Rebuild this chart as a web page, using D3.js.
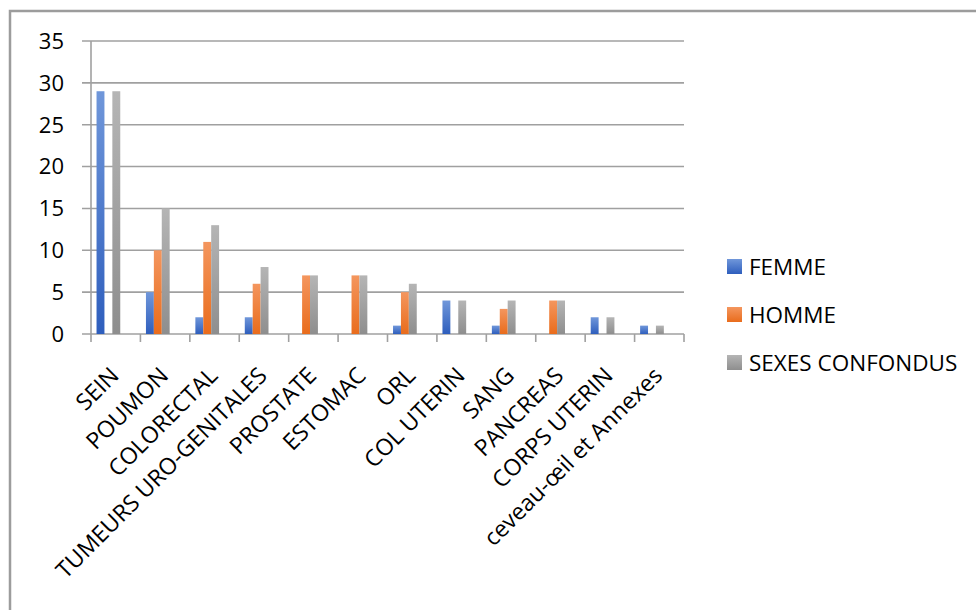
<!DOCTYPE html>
<html>
<head>
<meta charset="utf-8">
<script src="https://cdn.jsdelivr.net/npm/d3@7"></script>
<style>
  html, body { margin: 0; padding: 0; background: #fff; }
  svg { display: block; }
  text { font-family: "Open Sans", sans-serif; fill: #000; }
</style>
</head>
<body>
<div id="chart"></div>
<script>
// Cancer localisations by sex
const categories = ["SEIN", "POUMON", "COLORECTAL", "TUMEURS URO-GENITALES", "PROSTATE", "ESTOMAC",
  "ORL", "COL UTERIN", "SANG", "PANCREAS", "CORPS UTERIN", "ceveau-œil et Annexes"];
const seriesNames = ["FEMME", "HOMME", "SEXES CONFONDUS"];
const femme  = [29, 5, 2, 2, 0, 0, 1, 4, 1, 0, 2, 1];
const homme  = [0, 10, 11, 6, 7, 7, 5, 0, 3, 4, 0, 0];
const sexes  = [29, 15, 13, 8, 7, 7, 6, 4, 4, 4, 2, 1];
const yTicks = [0, 5, 10, 15, 20, 25, 30, 35];

const seriesValues = [femme, homme, sexes];
const colors = [
  { top: "#7097da", bottom: "#2e5ebd" },
  { top: "#f4965e", bottom: "#e96c1c" },
  { top: "#b5b5b5", bottom: "#8e8e8e" }
];

const W = 976, H = 610;
const plot = { left: 91, right: 684, top: 41, bottom: 334 };

const svg = d3.select("#chart").append("svg").attr("width", W).attr("height", H);

const defs = svg.append("defs");
colors.forEach((c, i) => {
  const g = defs.append("linearGradient").attr("id", "grad" + i)
    .attr("x1", 0).attr("y1", 0).attr("x2", 0).attr("y2", 1);
  g.append("stop").attr("offset", "0%").attr("stop-color", c.top);
  g.append("stop").attr("offset", "100%").attr("stop-color", c.bottom);
});

// chart frame
svg.append("rect").attr("x", 10).attr("y", 11).attr("width", 1000).attr("height", 700)
  .attr("fill", "none").attr("stroke", "#9c9c9c").attr("stroke-width", 2.5);

const y = d3.scaleLinear().domain([0, 35]).range([plot.bottom, plot.top]);
const x0 = d3.scaleBand().domain(categories).range([plot.left, plot.right]).padding(0);
const bw = x0.bandwidth();
const x1 = d3.scaleBand().domain(seriesNames).range([bw * 0.112, bw * 0.592]).padding(0);

// horizontal gridlines with left tick stubs
svg.append("g").selectAll("line").data(yTicks).join("line")
  .attr("x1", plot.left - 9).attr("x2", plot.right)
  .attr("y1", d => y(d)).attr("y2", d => y(d))
  .attr("stroke", "#a0a0a0").attr("stroke-width", 1.6);

// vertical axis line
svg.append("line").attr("x1", plot.left).attr("x2", plot.left)
  .attr("y1", plot.top).attr("y2", plot.bottom)
  .attr("stroke", "#a0a0a0").attr("stroke-width", 1.6);

// y tick labels
svg.append("g").selectAll("text").data(yTicks).join("text")
  .attr("x", 64).attr("y", d => y(d)).attr("dy", "0.36em")
  .attr("text-anchor", "end").style("font-size", "22px")
  .text(d => d);

// category tick marks
const tickXs = categories.map(c => x0(c)).concat([plot.right]);
svg.append("g").selectAll("line").data(tickXs).join("line")
  .attr("x1", d => d).attr("x2", d => d)
  .attr("y1", plot.bottom).attr("y2", plot.bottom + 8)
  .attr("stroke", "#a0a0a0").attr("stroke-width", 1.6);

// bars
const groups = svg.append("g").selectAll("g").data(categories).join("g")
  .attr("transform", c => `translate(${x0(c)},0)`);
groups.selectAll("rect")
  .data((c, ci) => seriesNames.map((s, si) => ({ s, si, v: seriesValues[si][ci] })))
  .join("rect")
  .attr("x", d => x1(d.s))
  .attr("width", x1.bandwidth())
  .attr("y", d => y(d.v))
  .attr("height", d => y(0) - y(d.v))
  .attr("fill", d => `url(#grad${d.si})`);

// rotated category labels
svg.append("g").selectAll("text").data(categories).join("text")
  .attr("transform", c => `translate(${x0(c) + bw / 2 + 4.5},${plot.bottom + 43}) rotate(-45)`)
  .attr("text-anchor", "end").style("font-size", "23px")
  .text(c => c);

// legend
const legend = svg.append("g").selectAll("g").data(seriesNames).join("g")
  .attr("transform", (s, i) => `translate(727,${266.5 + i * 48})`);
legend.append("rect").attr("x", 0).attr("y", -7.5).attr("width", 15).attr("height", 15)
  .attr("fill", (s, i) => `url(#grad${i})`);
legend.append("text").attr("x", 22).attr("y", 0).attr("dy", "0.36em")
  .style("font-size", "22.5px").text(s => s);
</script>
</body>
</html>
